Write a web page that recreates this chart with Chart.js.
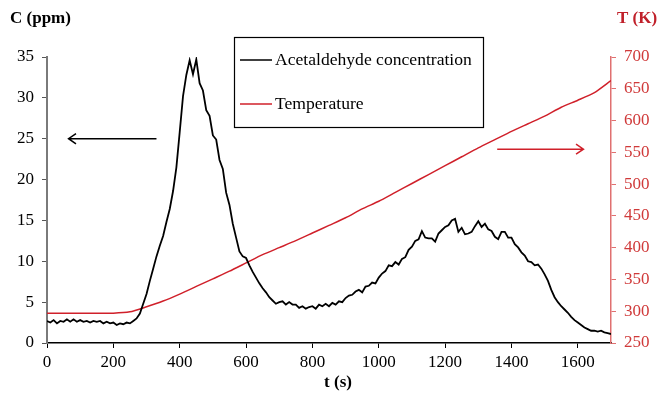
<!DOCTYPE html>
<html lang="en">
<head>
    <meta charset="UTF-8">
    <title>Acetaldehyde concentration and temperature</title>
    <script src="https://cdn.jsdelivr.net/npm/chart.js"></script>
    <style>
        body { margin: 0; background: #fff; }
        #wrap { width: 661px; height: 393px; }
    </style>
</head>
<body>
    <div id="wrap"><canvas id="tpd" width="661" height="393"></canvas></div>

    <script>
        // Acetaldehyde concentration (ppm), one reading every 10 s from t = 0 to 1700 s
        const concStep = 10;
        const concValues = [
            2.7, 2.5, 2.8, 2.4, 2.7, 2.6, 2.9, 2.6, 2.9, 2.6,
            2.8, 2.6, 2.7, 2.5, 2.7, 2.6, 2.7, 2.4, 2.6, 2.4,
            2.5, 2.2, 2.4, 2.3, 2.5, 2.4, 2.7, 3.0, 3.6, 4.8,
            6.0, 7.6, 9.1, 10.6, 11.9, 13.1, 14.8, 16.4, 18.6, 21.5,
            25.8, 30.2, 32.8, 34.6, 32.9, 34.7, 31.8, 30.9, 28.5, 27.8,
            25.4, 24.9, 22.4, 21.3, 18.4, 16.9, 14.6, 12.9, 11.2, 10.6,
            10.4, 9.5, 8.7, 8.0, 7.3, 6.7, 6.2, 5.6, 5.2, 4.8,
            5.0, 5.1, 4.7, 5.0, 4.7, 4.7, 4.3, 4.5, 4.2, 4.4,
            4.5, 4.2, 4.7, 4.5, 4.8, 4.5, 4.9, 4.7, 5.1, 5.0,
            5.5, 5.8, 5.9, 6.3, 6.5, 6.2, 6.9, 7.0, 7.4, 7.3,
            8.0, 8.5, 8.8, 9.5, 9.4, 9.9, 9.6, 10.3, 10.5, 11.4,
            11.8, 12.5, 12.7, 13.7, 12.9, 12.8, 12.8, 12.4, 13.4, 13.8,
            14.2, 14.4, 15.0, 15.2, 13.6, 14.1, 13.3, 13.4, 13.6, 14.3,
            14.9, 14.2, 14.6, 13.9, 13.7, 13.0, 12.7, 13.6, 13.6, 12.9,
            12.9, 12.1, 11.7, 11.1, 10.7, 10.0, 9.9, 9.5, 9.6, 9.1,
            8.4, 7.6, 6.5, 5.6, 5.0, 4.5, 4.1, 3.7, 3.2, 2.8,
            2.5, 2.2, 1.9, 1.7, 1.5, 1.5, 1.4, 1.5, 1.3, 1.2,
            1.1
        ];

        // Temperature ramp (K)
        const tempTimes = [0, 100, 200, 250, 300, 350, 400, 450, 500, 550, 600, 650, 700, 750, 800, 850,
                           900, 950, 1000, 1050, 1100, 1150, 1200, 1250, 1300, 1350, 1400, 1450, 1500,
                           1550, 1600, 1650, 1700];
        const tempValues = [297, 297, 297, 299, 307, 316, 327, 339, 351, 363, 376, 389, 400, 411, 423, 435,
                            447, 461, 473, 487, 501, 515, 529, 543, 557, 570, 583, 595, 607,
                            621, 632, 644, 663];

        const seriesNames = ['Acetaldehyde concentration', 'Temperature'];

        const black = '#000000';
        const red = '#d0202a';
        const serif = '"Liberation Serif", "Times New Roman", serif';

        const concPoints = concValues.map((v, i) => ({ x: i * concStep, y: v }));
        const tempPoints = tempValues.map((v, i) => ({ x: tempTimes[i], y: v }));

        function arrow(ctx, x1, y1, x2, y2, color) {
            const ang = Math.atan2(y2 - y1, x2 - x1);
            ctx.save();
            ctx.strokeStyle = color;
            ctx.lineWidth = 1.5;
            ctx.beginPath();
            ctx.moveTo(x1, y1);
            ctx.lineTo(x2, y2);
            ctx.moveTo(x2 - 9 * Math.cos(ang - 0.6), y2 - 9 * Math.sin(ang - 0.6));
            ctx.lineTo(x2, y2);
            ctx.lineTo(x2 - 9 * Math.cos(ang + 0.6), y2 - 9 * Math.sin(ang + 0.6));
            ctx.stroke();
            ctx.restore();
        }

        // titles, arrows and the boxed legend
        const decorations = {
            id: 'decorations',
            afterDraw(chart) {
                const ctx = chart.ctx;
                const x = chart.scales.x, yc = chart.scales.yC, yt = chart.scales.yT;
                ctx.save();
                ctx.font = 'bold 17px ' + serif;
                ctx.textBaseline = 'middle';
                ctx.fillStyle = black;
                ctx.textAlign = 'left';
                ctx.fillText('C (ppm)', 10, 19);
                ctx.fillStyle = '#c0202a';
                ctx.fillText('T (K)', 617, 19);
                ctx.fillStyle = black;
                ctx.textAlign = 'center';
                ctx.fillText('t (s)', 338, 383);

                arrow(ctx, x.getPixelForValue(330), yc.getPixelForValue(25),
                      x.getPixelForValue(65), yc.getPixelForValue(25), black);
                arrow(ctx, x.getPixelForValue(1357), yt.getPixelForValue(555),
                      x.getPixelForValue(1617), yt.getPixelForValue(555), red);

                // legend box
                ctx.fillStyle = '#fff';
                ctx.fillRect(234, 37, 249, 90);
                ctx.strokeStyle = black;
                ctx.lineWidth = 1.2;
                ctx.strokeRect(234.5, 37.5, 249, 90);
                ctx.font = '17.6px ' + serif;
                ctx.textAlign = 'left';
                const rows = [[seriesNames[0], black, 60], [seriesNames[1], red, 104]];
                rows.forEach(([name, col, yy]) => {
                    ctx.strokeStyle = col;
                    ctx.lineWidth = 1.5;
                    ctx.beginPath();
                    ctx.moveTo(240, yy);
                    ctx.lineTo(272, yy);
                    ctx.stroke();
                    ctx.fillStyle = black;
                    ctx.fillText(name, 275, yy);
                });
                ctx.restore();
            }
        };

        const tickFont = { family: serif, size: 17 };
        const plain = v => String(v);

        new Chart(document.getElementById('tpd'), {
            type: 'line',
            data: {
                datasets: [
                    {
                        label: seriesNames[0],
                        data: concPoints,
                        yAxisID: 'yC',
                        borderColor: black,
                        borderWidth: 1.8,
                        pointRadius: 0,
                        tension: 0
                    },
                    {
                        label: seriesNames[1],
                        data: tempPoints,
                        yAxisID: 'yT',
                        borderColor: red,
                        borderWidth: 1.5,
                        pointRadius: 0,
                        tension: 0.2
                    }
                ]
            },
            options: {
                responsive: false,
                animation: false,
                layout: { padding: { top: 57, left: 0, right: 0, bottom: 0 } },
                plugins: { legend: { display: false }, tooltip: { enabled: false } },
                scales: {
                    x: {
                        type: 'linear',
                        min: 0,
                        max: 1700,
                        afterFit: s => { s.height = 50; },
                        border: { color: black, width: 1.5 },
                        grid: { drawOnChartArea: false, tickLength: 5, tickColor: black },
                        ticks: { stepSize: 200, includeBounds: false, color: black, font: tickFont, padding: 4, maxRotation: 0, callback: plain }
                    },
                    yC: {
                        position: 'left',
                        min: 0,
                        max: 35,
                        afterFit: s => { s.width = 47; },
                        border: { color: '#7a7a7a', width: 2 },
                        grid: { drawOnChartArea: false, tickLength: 5, tickColor: '#555' },
                        ticks: { stepSize: 5, color: black, font: tickFont, padding: 8, callback: plain }
                    },
                    yT: {
                        position: 'right',
                        min: 250,
                        max: 700,
                        afterFit: s => { s.width = 50; },
                        border: { color: '#e07070', width: 1.5 },
                        grid: { drawOnChartArea: false, tickLength: 5, tickColor: '#e07070' },
                        ticks: { stepSize: 50, color: '#d03a3a', font: tickFont, padding: 8, callback: plain }
                    }
                }
            },
            plugins: [decorations]
        });
    </script>
</body>
</html>
